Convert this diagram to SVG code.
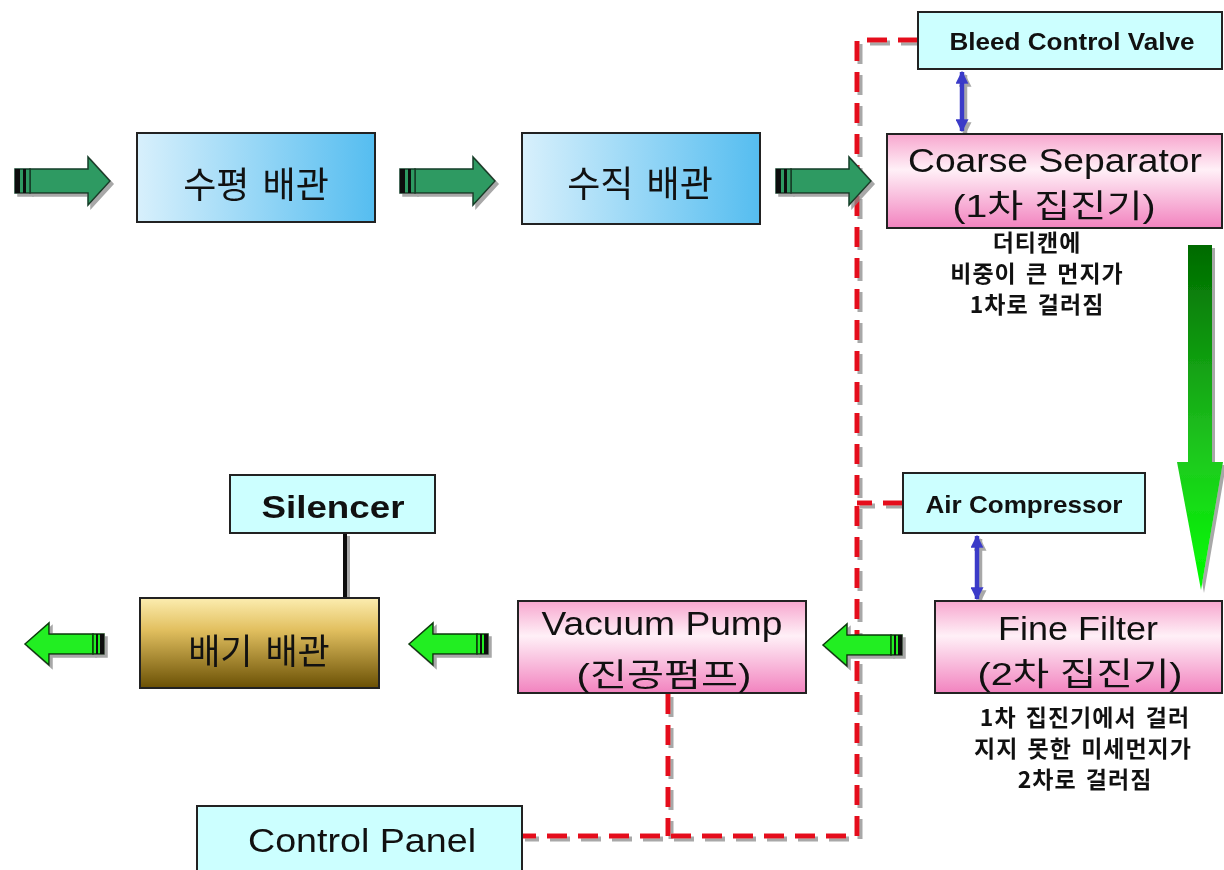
<svg xmlns="http://www.w3.org/2000/svg" width="1224" height="870" viewBox="0 0 1224 870">
<defs>
  <linearGradient id="gBlue" x1="0" y1="0" x2="1" y2="0">
    <stop offset="0" stop-color="#D8F0FC"/>
    <stop offset="1" stop-color="#55BDF0"/>
  </linearGradient>
  <linearGradient id="gPink" x1="0" y1="0" x2="0" y2="1">
    <stop offset="0" stop-color="#F7A6CE"/>
    <stop offset="0.38" stop-color="#FFF0F7"/>
    <stop offset="1" stop-color="#F283BF"/>
  </linearGradient>
  <linearGradient id="gGold" x1="0" y1="0" x2="0" y2="1">
    <stop offset="0" stop-color="#FCEDB0"/>
    <stop offset="0.35" stop-color="#E2C060"/>
    <stop offset="1" stop-color="#6A5004"/>
  </linearGradient>
  <linearGradient id="gBig" x1="0" y1="0" x2="0" y2="1">
    <stop offset="0" stop-color="#006A00"/>
    <stop offset="0.6" stop-color="#1FC81F"/>
    <stop offset="1" stop-color="#00FF00"/>
  </linearGradient>
  <filter id="sh" filterUnits="userSpaceOnUse" x="0" y="0" width="1224" height="870">
    <feOffset in="SourceAlpha" dx="3" dy="3" result="o"/>
    <feFlood flood-color="#8a8a8a" flood-opacity="0.75"/>
    <feComposite in2="o" operator="in" result="s"/>
    <feMerge><feMergeNode in="s"/><feMergeNode in="SourceGraphic"/></feMerge>
  </filter>
  <marker id="bh" viewBox="0 0 10 10" refX="9" refY="5" markerUnits="userSpaceOnUse" markerWidth="13" markerHeight="13" orient="auto-start-reverse">
    <path d="M0,0 L10,5 L0,10 z" fill="#3A3AC8"/>
  </marker>
  <g id="arrR">
    <polygon points="16,-12 74,-12 74,-24 96,0 74,24 74,12 16,12" fill="#2E9A62" stroke="#163C27" stroke-width="1.5"/>
    <rect x="1" y="-12" width="15" height="24" fill="#2E9A62" stroke="#163C27" stroke-width="1.5"/>
    <rect x="1" y="-12" width="5" height="24" fill="#111"/>
    <rect x="9" y="-12" width="3" height="24" fill="#111"/>
  </g>
  <g id="arrL">
    <polygon points="0,0 24,-21 24,-10 68,-10 68,10 24,10 24,21" fill="#22EE22" stroke="#0A3A0A" stroke-width="1.5"/>
    <rect x="68" y="-10" width="11" height="20" fill="#22EE22" stroke="#0A3A0A" stroke-width="1.5"/>
    <rect x="71" y="-10" width="2" height="20" fill="#111"/>
    <rect x="75" y="-10" width="4" height="20" fill="#111"/>
  </g>
</defs>
<style>
  .box { stroke: #222; stroke-width: 2; }
  .cyan { fill: #CCFFFF; }
  .lat { font-family: "Liberation Sans", "Noto Sans CJK KR", Arial, sans-serif; fill: #111; text-anchor: middle; }
  .kor { font-family: "Noto Sans CJK KR", "Liberation Sans", sans-serif; fill: #111; text-anchor: middle; }
  .bold { font-weight: bold; }
  .note { font-size: 23px; word-spacing: 3px; letter-spacing: 1px; }
  .red { fill: none; stroke: #E5101E; stroke-width: 5; stroke-dasharray: 20 11; }
  .blue { fill: none; stroke: #3A3AC8; stroke-width: 4.5; }
</style>
<rect width="1224" height="870" fill="#FFFFFF"/>

<g id="connectors">
  <g filter="url(#sh)">
    <path class="red" d="M918,40 H857 V836 H522"/>
    <path class="red" d="M903,503 H857"/>
    <path class="red" d="M668,694 V836"/>
    <line class="blue" x1="962" y1="72" x2="962" y2="131" marker-start="url(#bh)" marker-end="url(#bh)"/>
    <line class="blue" x1="977" y1="536" x2="977" y2="599" marker-start="url(#bh)" marker-end="url(#bh)"/>
    <line x1="345" y1="533" x2="345" y2="598" stroke="#111" stroke-width="4"/>
  </g>
  <g filter="url(#sh)">
    <use href="#arrR" transform="translate(14,181)"/>
    <use href="#arrR" transform="translate(399,181)"/>
    <use href="#arrR" transform="translate(775,181)"/>
    <use href="#arrL" transform="translate(25,644)"/>
    <use href="#arrL" transform="translate(409,644)"/>
    <use href="#arrL" transform="translate(823,645)"/>
    <polygon points="1188,245 1212,245 1212,462 1223,462 1201,590 1177,462 1188,462" fill="url(#gBig)"/>
  </g>
</g>

<g id="n-horizontal">
  <rect class="box" x="137" y="133" width="238" height="89" fill="url(#gBlue)"/>
  <text class="kor" x="256" y="198" font-size="36" word-spacing="5">수평 배관</text>
</g>
<g id="n-vertical">
  <rect class="box" x="522" y="133" width="238" height="91" fill="url(#gBlue)"/>
  <text class="kor" x="640" y="197" font-size="36" word-spacing="5">수직 배관</text>
</g>
<g id="n-bleed">
  <rect class="box cyan" x="918" y="12" width="304" height="57"/>
  <text class="lat bold" x="1072" y="50" font-size="24" textLength="245" lengthAdjust="spacingAndGlyphs">Bleed Control Valve</text>
</g>
<g id="n-coarse">
  <rect class="box" x="887" y="134" width="335" height="94" fill="url(#gPink)"/>
  <text class="lat" x="1055" y="172" font-size="33" textLength="294" lengthAdjust="spacingAndGlyphs">Coarse Separator</text>
  <text class="lat" x="1054" y="217" font-size="32" textLength="203" lengthAdjust="spacingAndGlyphs">(1차 집진기)</text>
</g>
<g id="t-coarse-note">
  <text class="kor bold note" x="1037" y="251">더티캔에</text>
  <text class="kor bold note" x="1037" y="282">비중이 큰 먼지가</text>
  <text class="kor bold note" x="1037" y="313">1차로 걸러짐</text>
</g>
<g id="n-aircomp">
  <rect class="box cyan" x="903" y="473" width="242" height="60"/>
  <text class="lat bold" x="1024" y="513" font-size="24" textLength="197" lengthAdjust="spacingAndGlyphs">Air Compressor</text>
</g>
<g id="n-fine">
  <rect class="box" x="935" y="601" width="287" height="92" fill="url(#gPink)"/>
  <text class="lat" x="1078" y="640" font-size="33" textLength="160" lengthAdjust="spacingAndGlyphs">Fine Filter</text>
  <text class="lat" x="1080" y="685" font-size="32" textLength="205" lengthAdjust="spacingAndGlyphs">(2차 집진기)</text>
</g>
<g id="t-fine-note">
  <text class="kor bold note" x="1085" y="726">1차 집진기에서 걸러</text>
  <text class="kor bold note" x="1083" y="757">지지 못한 미세먼지가</text>
  <text class="kor bold note" x="1085" y="788">2차로 걸러짐</text>
</g>
<g id="n-vacuum">
  <rect class="box" x="518" y="601" width="288" height="92" fill="url(#gPink)"/>
  <text class="lat" x="662" y="635" font-size="33" textLength="241" lengthAdjust="spacingAndGlyphs">Vacuum Pump</text>
  <text class="lat" x="664" y="686" font-size="32" textLength="175" lengthAdjust="spacingAndGlyphs">(진공펌프)</text>
</g>
<g id="n-exhaust">
  <rect class="box" x="140" y="598" width="239" height="90" fill="url(#gGold)"/>
  <text class="kor" x="259" y="664" font-size="35" word-spacing="5">배기 배관</text>
</g>
<g id="n-silencer">
  <rect class="box cyan" x="230" y="475" width="205" height="58"/>
  <text class="lat bold" x="333" y="518" font-size="31" textLength="143" lengthAdjust="spacingAndGlyphs">Silencer</text>
</g>
<g id="n-control">
  <rect class="box cyan" x="197" y="806" width="325" height="70"/>
  <text class="lat" x="362" y="852" font-size="33" textLength="228" lengthAdjust="spacingAndGlyphs">Control Panel</text>
</g>
</svg>
